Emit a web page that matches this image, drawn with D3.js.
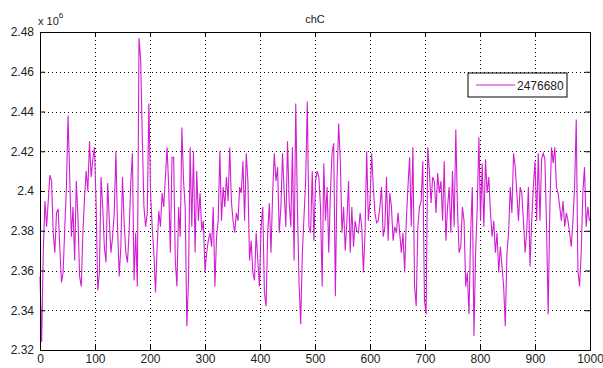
<!DOCTYPE html>
<html>
<head>
<meta charset="utf-8">
<script src="https://cdn.jsdelivr.net/npm/d3@7"></script>
<style>
  body { margin: 0; background: #fff; }
  text { font-family: "Liberation Sans", Arial, sans-serif; }
</style>
</head>
<body>
<div id="chart"></div>
<script>
// Data (values in units of 10^6, one sample every 3 steps of x)
const chartTitle = 'chC';
const legendLabel = '2476680';
const sampleStep = 3;
const values = [
  2.357, 2.324, 2.370, 2.395, 2.382, 2.395, 2.408, 2.405, 2.379, 2.369,
  2.389, 2.391, 2.372, 2.354, 2.359, 2.381, 2.402, 2.438, 2.407, 2.377,
  2.392, 2.365, 2.405, 2.387, 2.357, 2.352, 2.379, 2.397, 2.410, 2.400,
  2.425, 2.407, 2.416, 2.422, 2.394, 2.350, 2.359, 2.407, 2.392, 2.372,
  2.364, 2.404, 2.385, 2.369, 2.377, 2.389, 2.420, 2.382, 2.357, 2.372,
  2.407, 2.384, 2.369, 2.364, 2.379, 2.404, 2.419, 2.355, 2.379, 2.352,
  2.477, 2.466, 2.427, 2.392, 2.382, 2.389, 2.444, 2.399, 2.382, 2.369,
  2.349, 2.372, 2.390, 2.382, 2.399, 2.392, 2.407, 2.422, 2.402, 2.369,
  2.417, 2.417, 2.365, 2.352, 2.392, 2.377, 2.432, 2.405, 2.392, 2.332,
  2.355, 2.422, 2.382, 2.420, 2.369, 2.410, 2.385, 2.399, 2.380, 2.385,
  2.359, 2.369, 2.375, 2.379, 2.372, 2.392, 2.352, 2.377, 2.385, 2.420,
  2.385, 2.402, 2.392, 2.407, 2.395, 2.422, 2.395, 2.385, 2.379, 2.389,
  2.385, 2.402, 2.399, 2.415, 2.385, 2.419, 2.405, 2.365, 2.375, 2.359,
  2.355, 2.379, 2.365, 2.352, 2.382, 2.392, 2.349, 2.342, 2.379, 2.394,
  2.369, 2.399, 2.419, 2.405, 2.412, 2.379, 2.392, 2.419, 2.399, 2.382,
  2.425, 2.395, 2.382, 2.422, 2.365, 2.444, 2.392, 2.354, 2.333, 2.369,
  2.387, 2.405, 2.445, 2.382, 2.379, 2.410, 2.375, 2.405, 2.410, 2.407,
  2.392, 2.352, 2.414, 2.385, 2.402, 2.369, 2.399, 2.419, 2.424, 2.347,
  2.405, 2.434, 2.416, 2.379, 2.392, 2.370, 2.385, 2.405, 2.369, 2.392,
  2.372, 2.385, 2.380, 2.379, 2.389, 2.382, 2.359, 2.379, 2.420, 2.385,
  2.395, 2.419, 2.402, 2.389, 2.384, 2.385, 2.392, 2.402, 2.377, 2.382,
  2.407, 2.375, 2.399, 2.392, 2.375, 2.382, 2.379, 2.389, 2.379, 2.369,
  2.379, 2.359, 2.385, 2.402, 2.417, 2.382, 2.422, 2.352, 2.342, 2.382,
  2.392, 2.395, 2.415, 2.345, 2.338, 2.422, 2.410, 2.394, 2.407, 2.405,
  2.389, 2.409, 2.399, 2.405, 2.385, 2.415, 2.375, 2.392, 2.402, 2.379,
  2.410, 2.382, 2.431, 2.392, 2.369, 2.372, 2.392, 2.385, 2.352, 2.359,
  2.338, 2.379, 2.402, 2.327, 2.369, 2.392, 2.427, 2.385, 2.414, 2.382,
  2.416, 2.399, 2.407, 2.389, 2.377, 2.385, 2.369, 2.379, 2.359, 2.372,
  2.362, 2.352, 2.332, 2.369, 2.379, 2.402, 2.389, 2.419, 2.412, 2.399,
  2.385, 2.402, 2.399, 2.385, 2.369, 2.380, 2.402, 2.362, 2.385, 2.402,
  2.415, 2.385, 2.419, 2.385, 2.416, 2.419, 2.416, 2.382, 2.338, 2.392,
  2.422, 2.414, 2.422, 2.402, 2.399, 2.392, 2.385, 2.395, 2.382, 2.389,
  2.385, 2.379, 2.372, 2.385, 2.402, 2.436, 2.360, 2.352, 2.369, 2.399,
  2.412, 2.382, 2.392, 2.385
];
const xTicks = [0, 100, 200, 300, 400, 500, 600, 700, 800, 900, 1000];
const yTicks = [2.32, 2.34, 2.36, 2.38, 2.40, 2.42, 2.44, 2.46, 2.48];

const dataset = values.map((v, i) => ({ x: i * sampleStep, y: v }));
const xAccessor = d => d.x;
const yAccessor = d => d.y;

// Chart dimensions
const dimensions = {
  width: 603,
  height: 368,
  margin: { top: 32, right: 13, bottom: 18, left: 40 }
};
dimensions.containerWidth = dimensions.width - dimensions.margin.left - dimensions.margin.right;
dimensions.containerHeight = dimensions.height - dimensions.margin.top - dimensions.margin.bottom;

// Scales
const xScale = d3.scaleLinear()
  .domain([0, 1000])
  .range([0, dimensions.containerWidth]);

const yScale = d3.scaleLinear()
  .domain([2.32, 2.48])
  .range([dimensions.containerHeight, 0]);

const svg = d3.select('#chart')
  .append('svg')
  .attr('width', dimensions.width)
  .attr('height', dimensions.height);

svg.append('rect')
  .attr('width', dimensions.width)
  .attr('height', dimensions.height)
  .attr('fill', '#fff');

const container = svg.append('g')
  .attr('transform', `translate(${dimensions.margin.left}, ${dimensions.margin.top})`);

// Dotted grid
container.append('g')
  .selectAll('line')
  .data(xTicks.slice(1, -1))
  .join('line')
  .attr('x1', d => xScale(d) + 0.5)
  .attr('x2', d => xScale(d) + 0.5)
  .attr('y1', 0)
  .attr('y2', dimensions.containerHeight)
  .attr('stroke', '#000')
  .attr('stroke-dasharray', '1,3');

container.append('g')
  .selectAll('line')
  .data(yTicks.slice(1, -1))
  .join('line')
  .attr('x1', 0)
  .attr('x2', dimensions.containerWidth)
  .attr('y1', d => Math.round(yScale(d)) + 0.5)
  .attr('y2', d => Math.round(yScale(d)) + 0.5)
  .attr('stroke', '#000')
  .attr('stroke-dasharray', '1,3');

// Data line
const line = d3.line()
  .x(d => xScale(xAccessor(d)))
  .y(d => yScale(yAccessor(d)));

container.append('path')
  .datum(dataset)
  .attr('d', line)
  .attr('fill', 'none')
  .attr('stroke', '#d21ed2')
  .attr('stroke-width', 1.1);

// Axes (inward ticks on all four sides, like the box of the original)
const xAxis = d3.axisBottom(xScale)
  .tickValues(xTicks)
  .tickSize(-5)
  .tickPadding(4)
  .tickFormat(d => d);

const yAxis = d3.axisLeft(yScale)
  .tickValues(yTicks)
  .tickSize(-5)
  .tickPadding(6)
  .tickFormat(d => String(+d.toFixed(2)));

const xAxisGroup = container.append('g')
  .call(xAxis)
  .attr('transform', `translate(0, ${dimensions.containerHeight})`);

const yAxisGroup = container.append('g')
  .call(yAxis);

container.append('g')
  .call(d3.axisTop(xScale).tickValues(xTicks).tickSize(-5).tickFormat(''));

container.append('g')
  .attr('transform', `translate(${dimensions.containerWidth}, 0)`)
  .call(d3.axisRight(yScale).tickValues(yTicks).tickSize(-5).tickFormat(''));

container.selectAll('.domain').attr('stroke', '#000');
container.selectAll('.tick line').attr('stroke', '#000');
[xAxisGroup, yAxisGroup].forEach(g => g.selectAll('text')
  .attr('fill', '#222')
  .style('font-size', '12px'));

// Multiplier label and title
const mult = svg.append('text')
  .attr('x', 38)
  .attr('y', 25)
  .attr('fill', '#222')
  .style('font-size', '11px')
  .text('x 10');
mult.append('tspan')
  .attr('dy', -7)
  .style('font-size', '8px')
  .text('6');

svg.append('text')
  .attr('x', dimensions.margin.left + dimensions.containerWidth / 2)
  .attr('y', 23)
  .attr('text-anchor', 'middle')
  .attr('fill', '#222')
  .style('font-size', '11px')
  .text(chartTitle);

// Legend
const legend = svg.append('g').attr('transform', 'translate(468, 73)');
legend.append('rect')
  .attr('width', 99)
  .attr('height', 24)
  .attr('fill', '#fff')
  .attr('stroke', '#000');
legend.append('line')
  .attr('x1', 8).attr('x2', 47)
  .attr('y1', 12).attr('y2', 12)
  .attr('stroke', '#d21ed2');
legend.append('text')
  .attr('x', 49)
  .attr('y', 16.5)
  .attr('fill', '#222')
  .style('font-size', '12px')
  .text(legendLabel);
</script>
</body>
</html>
